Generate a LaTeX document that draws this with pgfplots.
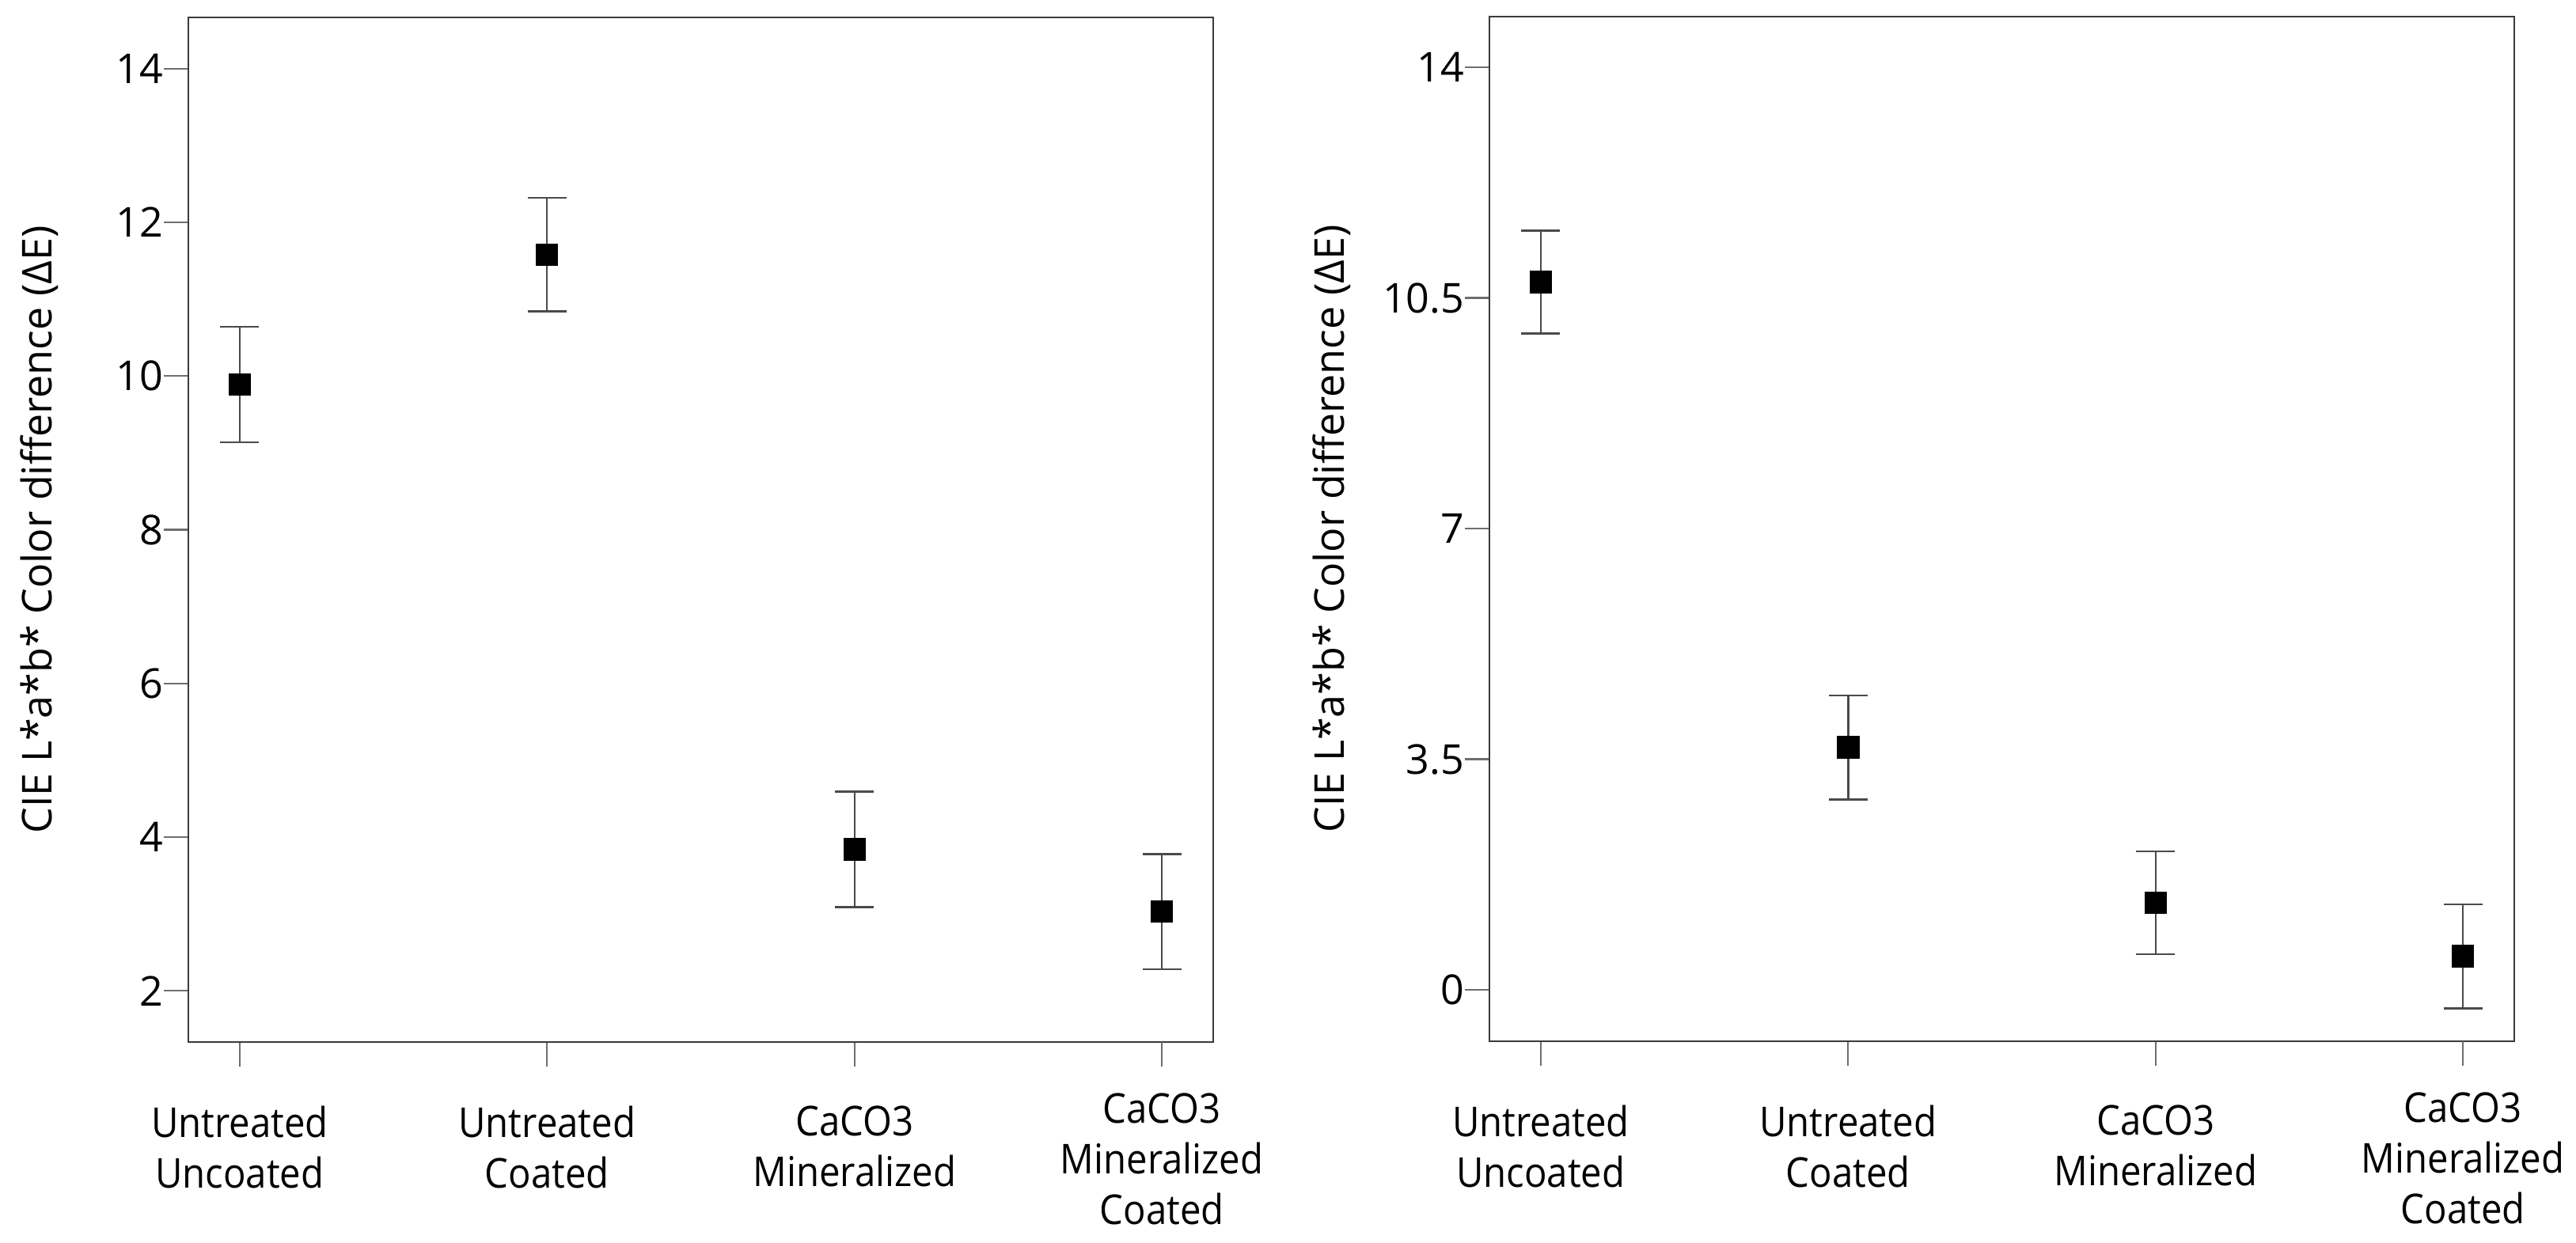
\documentclass[border=0pt]{standalone}
\usepackage{pgfplots}
\pgfplotsset{compat=1.18}
\usepackage{fontspec}
\setmainfont{Open Sans}
\newfontfamily\narrowfont{Open Sans}[FakeStretch=0.91]

\definecolor{boxcol}{HTML}{3A3A3A}
\definecolor{tickcol}{HTML}{6E6E6E}
\definecolor{barcol}{HTML}{4A4A4A}

\pgfplotsset{
  ciestyle/.style={
    scale only axis,
    width=323.75pt, height=323.75pt,
    xmin=-0.167, xmax=3.167,
    axis line style={boxcol, line width=0.6pt},
    tick align=outside,
    major tick length=7.75pt,
    tick style={tickcol, line width=0.55pt},
    xtick pos=bottom, ytick pos=left,
    xtick={0,1,2},
    xticklabels={{Untreated\\Uncoated},{Untreated\\Coated},{CaCO3\\Mineralized}},
    xticklabel style={align=center, anchor=north, font=\narrowfont\fontsize{13}{16}\selectfont, yshift=-9pt},
    extra x ticks={3},
    extra x tick labels={{CaCO3\\Mineralized\\Coated}},
    extra x tick style={xticklabel style={yshift=4pt}},
    yticklabel style={font=\fontsize{13}{16}\selectfont, xshift=3.3pt},
    /pgf/number format/assume math mode=true,
    ylabel={CIE L*a*b* Color difference (ΔE)},
    ylabel style={font=\fontsize{13}{16}\selectfont, anchor=center},
    error bars/y dir=both,
    error bars/y explicit,
    error bars/error bar style={barcol, line width=0.6pt},
    error bars/error mark options={rotate=90, mark size=6.1pt, barcol, line width=0.6pt},
  },
  ciepoints/.style={only marks, mark=square*, mark size=3.35pt, black},
}

\begin{document}
\begin{tikzpicture}
\useasboundingbox (0,0) rectangle (813.75pt,392.75pt);

% left panel
\begin{axis}[ciestyle,
  at={(59.5pt,63.5pt)}, anchor=south west,
  ymin=1.333, ymax=14.667,
  ytick={2,4,6,8,10,12,14},
  ylabel style={at={(axis description cs:-0.145,0.5)}},
]
\addplot[ciepoints] coordinates {
  (0,9.89)  +- (0,0.75)
  (1,11.58) +- (0,0.74)
  (2,3.84)  +- (0,0.75)
  (3,3.03)  +- (0,0.75)
};
\end{axis}

% right panel
\begin{axis}[ciestyle,
  at={(470.5pt,63.75pt)}, anchor=south west,
  ymin=-0.78, ymax=14.77,
  ytick={0,3.5,7,10.5,14},
  ylabel style={at={(axis description cs:-0.154,0.5)}},
]
\addplot[ciepoints] coordinates {
  (0,10.74) +- (0,0.78)
  (1,3.68)  +- (0,0.79)
  (2,1.32)  +- (0,0.78)
  (3,0.51)  +- (0,0.79)
};
\end{axis}
\end{tikzpicture}
\end{document}
